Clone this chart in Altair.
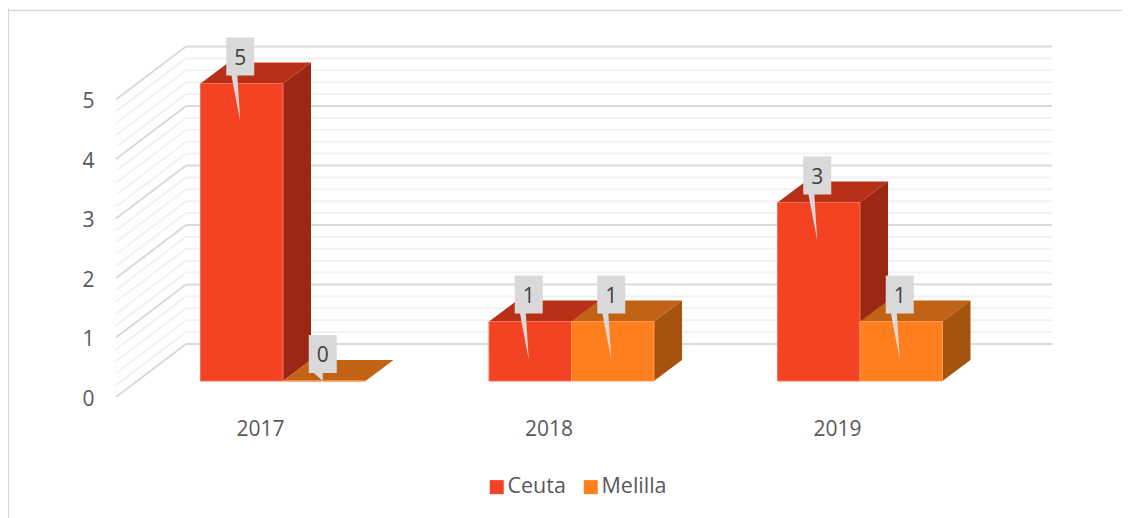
import altair as alt
import pandas as pd

# ---- chart values ----
YEARS = [2017, 2018, 2019]
CEUTA = [5, 1, 3]
MELILLA = [0, 1, 1]
SERIES = ["Ceuta", "Melilla"]
FRONT = ["#F44323", "#FF7F1E"]
TOP = ["#B93018", "#C26214"]
SIDE = ["#9B2714", "#A5540F"]
EDGE = ["#F7705A", "#FF9A55"]
TICKS = [0, 1, 2, 3, 4, 5]
MINOR = [i / 5 for i in range(26)]
FONT = "Open Sans"
GREY = "#595959"

# ---- scale geometry: pixels per data unit, and projected depth ----
W, H = 1114, 510
PX_YEAR, PX_VAL = 288.5, 59.5
X0, Y0 = 261 - 8, 397 - 8   # view position of (2017, 0)


def ux(px):
    return px / PX_YEAR


def uy(px):
    return px / PX_VAL


x_dom = [2017 - ux(X0), 2017 + ux(W - X0)]
y_dom = [-uy(H - Y0), uy(Y0)]
BAR_W = 82.5
FRONT_D = (22, 16)
BACK_D = (50, 37)
WALL_D = (70, 53)
RIGHT_END = 2017 + ux(1052 - 261)

X_AXIS = alt.Axis(values=YEARS, format="d", orient="bottom", domain=False, ticks=False, grid=False,
                  offset=-(H - 410), labelPadding=0, labelOffset=-1, labelFontSize=21, labelFont=FONT,
                  labelColor=GREY, labelBaseline="top")
Y_AXIS = alt.Axis(values=TICKS, format="d", orient="left", domain=False, ticks=False, grid=False,
                  offset=-88, labelPadding=2, labelOffset=2, labelFontSize=21, labelFont=FONT,
                  labelColor=GREY, labelBaseline="middle")


def X(f="x"):
    return alt.X(f"{f}:Q", scale=alt.Scale(domain=x_dom, range=[0, W], nice=False, zero=False), title=None, axis=X_AXIS)


def Y(f="y"):
    return alt.Y(f"{f}:Q", scale=alt.Scale(domain=y_dom, range=[H, 0], nice=False, zero=False), title=None, axis=Y_AXIS)


# ---- walls ----
rows = []
for v in MINOR:
    major = abs(v - round(v)) < 1e-9
    rows.append(dict(
        v=v,
        colr="#D9D9D9" if major else "#F2F2F2",
        lx=2017 - ux(261 - 116), ly=v,
        mx=2017 - ux(261 - 116) + ux(WALL_D[0]), my=v + uy(WALL_D[1]),
        rx=RIGHT_END,
    ))
grid = pd.DataFrame(rows)
minor_g = grid[grid.colr == "#F2F2F2"]
major_g = grid[grid.colr == "#D9D9D9"]


def wall(df):
    diag = alt.Chart(df).mark_rule(strokeWidth=2).encode(
        x=X("lx"), x2="mx:Q", y=Y("ly"), y2="my:Q", color=alt.Color("colr:N", scale=None))
    back = alt.Chart(df).mark_rule(strokeWidth=2).encode(
        x=X("mx"), x2="rx:Q", y=Y("my"), color=alt.Color("colr:N", scale=None))
    return [diag, back]


# ---- bars as projected faces ----
front_rows, top_rows, side_rows, callouts, pointers = [], [], [], [], []
for s, vals in enumerate([CEUTA, MELILLA]):
    for yr, v in zip(YEARS, vals):
        x_front = yr + ux(FRONT_D[0])
        x0 = x_front + (ux(-BAR_W) if s == 0 else 0)
        x1 = x0 + ux(BAR_W)
        base = uy(FRONT_D[1])
        top_v = v + base
        dxb, dyb = ux(BACK_D[0] - FRONT_D[0]), uy(BACK_D[1])
        key = f"{s}-{yr}"
        front_rows.append(dict(series=SERIES[s], x=x0, x2=x1, y=base, y2=top_v, edge=EDGE[s]))
        for pair in [(x0, x1, top_v), (x0 + dxb, x1 + dxb, v + dyb)]:
            top_rows.append(dict(s=s, key=key, x=pair[0], x2=pair[1], y=pair[2], fill=TOP[s]))
        side_rows.append(dict(s=s, key=key, x=x1, y=base, y2=top_v, fill=SIDE[s]))
        side_rows.append(dict(s=s, key=key, x=x1 + dxb, y=dyb, y2=v + dyb, fill=SIDE[s]))
        # data-label callouts
        c = (x0 + x1) / 2 - ux(1.5)
        callouts.append(dict(label=str(v), x=c - ux(14), x2=c + ux(14), xc=c,
                             y=top_v + uy(8), y2=top_v + uy(46), yc=top_v + uy(25)))
        tip = top_v - uy(min(38, v * PX_VAL))
        a, b = (-9, -3) if v > 0 else (-10, 0)
        pointers.append(dict(key=key, x=c + ux(a), x2=c + ux(b), y=top_v + uy(9)))
        pointers.append(dict(key=key, x=c, x2=c, y=tip))

tops = pd.DataFrame(top_rows)
sides = pd.DataFrame(side_rows)
layers = wall(minor_g) + wall(major_g)

for s in (0, 1):
    layers.append(alt.Chart(tops[tops.s == s]).mark_area(orient="horizontal", opacity=1).encode(
        y=Y("y"), x=X("x"), x2="x2:Q", detail="key:N", fill=alt.Fill("fill:N", scale=None)))
    layers.append(alt.Chart(sides[sides.s == s]).mark_area(orient="vertical", opacity=1).encode(
        x=X("x"), y=Y("y"), y2="y2:Q", detail="key:N", fill=alt.Fill("fill:N", scale=None)))

layers.append(alt.Chart(pd.DataFrame(front_rows)).mark_rect(strokeWidth=1).encode(
    x=X("x"), x2="x2:Q", y=Y("y"), y2="y2:Q",
    stroke=alt.Stroke("edge:N", scale=None),
    fill=alt.Fill("series:N", scale=alt.Scale(domain=SERIES, range=FRONT), legend=alt.Legend(
        orient="none", legendX=478, legendY=468, direction="horizontal", columns=2, title=None,
        symbolType="square", symbolSize=196, symbolStrokeWidth=0, symbolOpacity=1, labelFontSize=21.5, labelFont=FONT,
        labelColor=GREY, labelOffset=0, columnPadding=14, padding=0)),
))

layers.append(alt.Chart(pd.DataFrame(pointers)).mark_area(orient="horizontal", color="#D9D9D9", opacity=1).encode(
    y=Y("y"), x=X("x"), x2="x2:Q", detail="key:N"))
cd = pd.DataFrame(callouts)
layers.append(alt.Chart(cd).mark_rect(color="#D9D9D9").encode(x=X("x"), x2="x2:Q", y=Y("y"), y2="y2:Q"))
layers.append(alt.Chart(cd).mark_text(font=FONT, fontSize=21, color="#404040").encode(
    x=X("xc"), y=Y("yc"), text="label:N"))

# frame: only the left and top edges are drawn in the reference
layers.append(alt.Chart(pd.DataFrame({"a": [0]})).mark_rule(color="#D9D9D9", strokeWidth=2).encode(
    x=alt.value(0), y=alt.value(0), y2=alt.value(H)))
layers.append(alt.Chart(pd.DataFrame({"a": [0]})).mark_rule(color="#D9D9D9", strokeWidth=1.5).encode(
    y=alt.value(2.5), x=alt.value(0), x2=alt.value(W)))

chart = alt.layer(*layers).properties(
    width=W, height=H, background="#FFFFFF", padding=0,
    autosize=alt.AutoSizeParams(type="none"),
).configure_view(stroke=None)

chart.save("out.html", embed_options={"renderer": "svg", "actions": False})
